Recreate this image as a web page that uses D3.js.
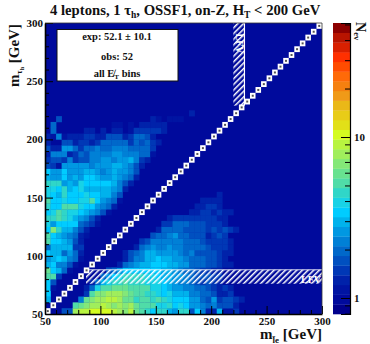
<!DOCTYPE html>
<html>
<head>
<meta charset="utf-8">
<script src="https://cdn.jsdelivr.net/npm/d3@7"></script>
<style>
  html, body { margin: 0; padding: 0; background: #fff; }
  text { font-family: "Liberation Serif", serif; font-weight: bold; fill: #111; }
</style>
</head>
<body>
<svg id="chart" width="370" height="344"></svg>
<script>
// Bin edges of both mass axes [GeV]
const binEdges = d3.range(50, 300, 5);
const xTicksMajor = [50, 100, 150, 200, 250, 300];
const xTicksMinor = [60, 70, 80, 90, 110, 120, 130, 140, 160, 170, 180, 190, 210, 220, 230, 240, 260, 270, 280, 290];
const zTicksMajor = [1, 10];
const zTicksMinor = [0.8, 0.9, 2, 3, 4, 5, 6, 7, 8, 9, 20, 30, 40, 50];

// Events per bin below the diagonal: first bin of each row, then its values (row 0 is m_tau 50-55)
const belowStart = [3, 5, 6, 7, 7, 8, 10, 11, 13, 14, 14, 16, 17, 19, 20, 21, 22, 26, 27, 28, 31];
const belowRows = [
  [1.7,1.7,8.2,9.4,9.4,10.9,10.9,10.9,10.9,9.4,8.2,7.1,9.4,6.2,5.3,4.6,3.5,4.6,4.6,3,2.6,4.6,4.6,1.7,3.5,2.3,1.3,1.3,3,1.1,1.1,1.5],
  [5.3,6.2,7.1,8.2,8.2,9.4,8.2,7.1,8.2,7.1,8.2,6.2,5.3,5.3,5.3,4,4,4.6,3.5,4,3.5,2.6,2.6,2.3,2,2.3,1.7,1.7,1.7,1.3],
  [2.3,6.2,7.1,8.2,8.2,9.4,9.4,8.2,6.2,6.2,4.6,5.3,5.3,4.6,5.3,4.6,4,3.5,3.5,3.5,2.6,2.6,2,1.7,2.6,1.5,1.7,1.7,1.5,1.3],
  [1.5,5.3,7.1,7.1,8.2,8.2,8.2,7.1,6.2,5.3,5.3,4.6,4.6,4,3.5,4,3,3,3,2.3,2.3,2,2,1.7,1.3,1.3,1.5],
  [1.3,2,4,5.3,5.3,6.2,6.2,6.2,5.3,5.3,5.3,5.3,4,4,3.5,3,2.6,2.6,2.3,2.3,2,2,1.7,1.5,1.3,1.5,1.3],
  [1.3,2,3,4,4.6,4.6,5.3,4.6,4.6,4.6,4,4,4,3.5,3,2.6,2.3,2.3,2,1.7,1.5,1.7,1.5,1.3],
  [2,2.6,3.5,4,4.6,4.6,4.6,4.6,4,4,3.5,3,3,2.6,2.6,2.3,2,1.7,1.7,1.7,1.5,1.5,1.1],
  [1.7,2,2.6,3.5,3.5,3.5,3.5,3.5,3.5,3.5,3,3,2.6,2.3,2,2,1.7,1.5,1.5,1.3,1.3],
  [1.3,2,2.3,2.6,3,3,3.5,3.5,3.5,3,3,2.6,2.6,2,2,2,1.7,1.7,1.5,1.3,1.3],
  [1.3,1.7,2.3,2.3,3,3,3.5,3,3,2.6,2.6,2.3,2,2,2,1.7,1.7,1.5,1.3],
  [1.3,1.7,2,2.3,3,3,2.6,2.6,2.6,2.6,2.3,2,2.3,1.7,1.7,1.7,1.7,1.5,1.3,1.3],
  [1.3,2,2.3,2.6,2.3,2.3,2.6,2.3,2.3,2,2,2,2,1.7,1.5,1.5,1.5,1.3],
  [1.5,1.7,2.3,2.3,2.3,2.3,2.3,2.3,2,2,2,1.7,1.5,1.5,1.5,1.5,1.3],
  [1.7,2,2,2.3,2.6,2,2,1.7,1.7,1.7,1.3,1.5,1.7,1.5],
  [1.3,2,2,2,2,1.7,1.7,1.7,1.7,1.5,1.7,1.5,1.7,1.5,1.3],
  [1.5,1.5,2,2,2,1.7,1.7,1.7,1.5,1.5,1.5,1.3],
  [1.3,1.5,1.5,1.5,1.5,1.5,1.5,1.5,1.5,1.3,1.3],
  [1.3,1.3,1.5,1.5,1.3,1.5,1.3,1.3],
  [1.3,1.3,1.5,1.5,1.3],
  [1.3,1.3,1.3,1.3],
  [1.3]
];

// Events per bin above the diagonal, from the first bin of each row (0 = empty); first row is m_tau 55-60
const aboveRows = [
  [0],
  [3],
  [3.5],
  [3.5,1.1],
  [3.5,1.7],
  [5.3,5.3,1.5],
  [6.2,3.5,3,2,1.1],
  [3,3.5,2.3,2.3,1.7,1.1],
  [2.6,3,3.5,3,2.3,2,1.1],
  [3.5,3,3,2,2.6,2,1.3],
  [2,3,3,3,3,1.5,1.5],
  [5.3,3.5,3.5,3,2.6,1.7,1.3],
  [5.3,3.5,3,2.6,2.3,2,1.3,1.1],
  [3.5,7.1,4.6,3,3,2.3,1.7,1.3],
  [4,2.6,3.5,3.5,3.5,3.5,2,1.7,1.5,1.1],
  [4.6,4.6,5.3,4.6,4,3,2.6,2.3,1.7,1.3],
  [3.5,4,5.3,4.6,4,4,3.5,3,2.6,2.3,1.7,1.1],
  [4.6,3.5,3.5,5.3,5.3,5.3,4,3.5,3.5,2.6,2.3,2,1.3],
  [5.3,3.5,3.5,4,3.5,3.5,4,4,5.3,3.5,2.6,2.3,2,1.1],
  [4,3.5,3,4.6,3.5,3.5,3.5,4,3.5,3.5,3,3,2.3,1.7],
  [4,4,3.5,4.6,3,3.5,4,3,3,3,3,3,2.6,2.3,1.3],
  [4.6,4.6,4.6,2.6,3,2.6,4,3.5,3.5,3.5,3.5,3.5,3,2.3,1.7,1.3],
  [3,2.6,2.6,3.5,2.6,3,2.6,3.5,3.5,3,2.6,2.6,3,2.6,2.3,2,1.3],
  [3.5,2.6,2.6,3.5,2.6,2.6,2.6,3,3,2.6,2.3,2.6,3,2.6,2.6,2.3,1.7],
  [1.7,1.5,1.1,2.6,2.6,2.6,2.6,2.6,2.3,2.6,2.6,2.6,3,3,2.6,2.3,1.7,1.3],
  [1.5,1.7,1.7,1.5,2.3,1.5,1.7,1.7,2.3,2.3,2.6,2.6,2.3,2.6,2.6,3,2.3,1.5,1.3],
  [1.3,2.3,2.3,2.3,1.3,1.5,2,1.7,2.3,2.3,2.3,2.3,2.6,2.6,2.3,2.3,2.3,2,2,1.1],
  [1.7,1.3,1.3,2.6,2.6,2,1.5,2,2,2.3,2,2,2.3,2.3,2.3,2,2,2,2,1.5],
  [1.3,0,0,1.7,1.7,1.3,1.5,1.5,1.3,1.5,2,2,2,2,2,1.5,2,1.7,2,1.5,1.3],
  [1.3,1.1,2.3,1.1,1.3,1.3,1.3,1.5,1.5,1.3,1.3,1.7,1.7,1.7,1.3,1.5,2,2,1.7,1.3],
  [0,2,0,0,0,0,0,1.3,1.3,0,1.3,0,1.3,1.3,0,1.1,1.5,1.5,1.5,1.5,1.5,1.3],
  [0,2,0,0,0,0,0,0,0,0,0,0,1.1,1.1,0,1.1,0,1.3,1.3,1.3,1.3,1.3],
  [0,0,1.7,0,0,0,0,0,0,0,0,0,0,0,0,0,0,0,0,1.3,1.1,0,1.1,1.1,1.1],
  [0,0,0,0,0,0,0,0,0,0,0,0,0,0,0,0,0,0,0,0,0,0,0,0,0,0,1.3]
];

// Colour bar levels, bottom to top
const paletteColors = [
  "#00008c", "#000a9c", "#0014a2", "#0022aa", "#0038b6", "#0050c0", "#0068ca", "#0080d6", "#0098e2", "#00b2ec",
  "#00ccff", "#18d2e6", "#30d6c8", "#50dca8", "#68e290", "#84e878", "#a0ee5c", "#b8f440", "#d4fc20", "#e2e018",
  "#e8cc18", "#eab818", "#f09a18", "#f58010", "#ff6a08", "#ff4c00", "#ff3000", "#d82000", "#b81400", "#8c0000"
];

const margin = { top: 23, right: 48, bottom: 30, left: 45 };
const width = 370 - margin.left - margin.right;
const height = 344 - margin.top - margin.bottom;

const svg = d3.select("#chart");
const chart = svg.append("g").attr("transform", `translate(${margin.left},${margin.top})`);

const xScale = d3.scaleLinear().domain([50, 300]).range([0, width]);
const yScale = d3.scaleLinear().domain([50, 300]).range([height, 0]);

// Log z axis: 1 and 10 sit 161px apart, the bar runs past both ends
const zMin = Math.pow(10, -16 / 161);
const zMax = Math.pow(10, 275 / 161);
const zScale = d3.scaleLog().domain([zMin, zMax]).range([height, 0]);
const colorScale = d3.scaleQuantize()
  .domain([Math.log10(zMin), Math.log10(zMax)])
  .range(paletteColors);

// Flatten rows into cells
const cells = [];
belowRows.forEach((row, r) => row.forEach((v, i) => {
  if (v > 0) cells.push({ m1: binEdges[belowStart[r] + i], m2: binEdges[r], v: v });
}));
aboveRows.forEach((row, k) => row.forEach((v, c) => {
  if (v > 0) cells.push({ m1: binEdges[c], m2: binEdges[k + 1], v: v });
}));

// Empty bins take the second palette level
chart.append("rect")
  .attr("width", width)
  .attr("height", height)
  .attr("fill", paletteColors[1]);

chart.selectAll("rect.cell")
  .data(cells)
  .enter()
  .append("rect")
    .attr("class", "cell")
    .attr("x", d => xScale(d.m1))
    .attr("y", d => yScale(d.m2 + 5))
    .attr("width", xScale(55) - xScale(50) + 0.3)
    .attr("height", yScale(50) - yScale(55) + 0.3)
    .attr("fill", d => colorScale(Math.log10(d.v)));

// Hatch for the masked regions
const defs = svg.append("defs");
const hatch = defs.append("pattern")
  .attr("id", "hatch")
  .attr("width", 4)
  .attr("height", 4)
  .attr("patternUnits", "userSpaceOnUse")
  .attr("patternTransform", "rotate(45)");
hatch.append("rect")
  .attr("width", 1.5)
  .attr("height", 4)
  .attr("fill", "#fff");

chart.append("rect")
  .attr("x", xScale(87))
  .attr("y", yScale(88))
  .attr("width", xScale(300) - xScale(87))
  .attr("height", yScale(76) - yScale(88))
  .attr("fill", "url(#hatch)");
chart.append("line")
  .attr("x1", xScale(87))
  .attr("x2", xScale(300))
  .attr("y1", yScale(88))
  .attr("y2", yScale(88))
  .attr("stroke", "#fff")
  .attr("stroke-opacity", 0.8);

chart.append("rect")
  .attr("x", xScale(220))
  .attr("y", yScale(300))
  .attr("width", xScale(230) - xScale(220))
  .attr("height", yScale(229) - yScale(300))
  .attr("fill", "url(#hatch)");
chart.append("line")
  .attr("x1", xScale(230))
  .attr("x2", xScale(230))
  .attr("y1", yScale(300))
  .attr("y2", yScale(229))
  .attr("stroke", "#fff")
  .attr("stroke-width", 1.2);

// LFV labels inside the hatched bands
chart.append("text")
  .attr("x", xScale(300) - 1)
  .attr("y", yScale(77))
  .attr("text-anchor", "end")
  .style("font-size", "10px")
  .style("fill", "#fff")
  .text("LFV");
chart.append("text")
  .attr("transform", `translate(${xScale(225) - 3},${yScale(291)}) rotate(90)`)
  .attr("text-anchor", "start")
  .style("font-size", "10px")
  .style("fill", "#fff")
  .text("LFV");

// Diagonal bins are masked: white squares with a small dark spot
const diagonal = chart.selectAll("g.diag")
  .data(binEdges)
  .enter()
  .append("g")
    .attr("class", "diag");
diagonal.append("rect")
  .attr("x", d => xScale(d))
  .attr("y", d => yScale(d + 5))
  .attr("width", xScale(55) - xScale(50))
  .attr("height", yScale(50) - yScale(55))
  .attr("fill", "#fff");
diagonal.append("rect")
  .attr("x", d => xScale(d + 2.5) - 1)
  .attr("y", d => yScale(d + 2.5) - 1)
  .attr("width", 2)
  .attr("height", 2)
  .attr("fill", "#555");

// Axes
const axisFont = g => g.selectAll("text")
  .style("font-size", "11px")
  .style("font-family", '"Liberation Serif", serif')
  .style("font-weight", "bold")
  .style("fill", "#111");

chart.append("g")
  .attr("transform", `translate(0,${height})`)
  .call(d3.axisBottom(xScale).tickValues(xTicksMinor).tickSize(-4).tickFormat(""))
  .call(g => g.select(".domain").remove());
chart.append("g")
  .attr("transform", `translate(0,${height})`)
  .call(d3.axisBottom(xScale).tickValues(xTicksMajor).tickSize(-8).tickPadding(3).tickSizeOuter(0))
  .call(axisFont)
  .call(g => g.select(".domain").attr("stroke-width", 1.6));

chart.append("g")
  .call(d3.axisLeft(yScale).tickValues(xTicksMinor).tickSize(-4).tickFormat(""))
  .call(g => g.select(".domain").remove());
chart.append("g")
  .call(d3.axisLeft(yScale).tickValues(xTicksMajor).tickSize(-8).tickPadding(2).tickSizeOuter(0))
  .call(axisFont)
  .call(g => g.select(".domain").attr("stroke-width", 1.6));

// Thin frame on top and right
chart.append("line").attr("x1", 0).attr("x2", width).attr("stroke", "#333").attr("stroke-width", 0.8);
chart.append("line").attr("x1", width).attr("x2", width).attr("y2", height).attr("stroke", "#333").attr("stroke-width", 0.8);

// Colour bar
const barX = 288;
const barW = 17;
const levelH = height / paletteColors.length;
chart.selectAll("rect.level")
  .data(paletteColors)
  .enter()
  .append("rect")
    .attr("class", "level")
    .attr("x", barX)
    .attr("y", (d, i) => height - (i + 1) * levelH)
    .attr("width", barW)
    .attr("height", levelH + 0.3)
    .attr("fill", d => d);

const zAxisG = chart.append("g").attr("transform", `translate(${barX + barW},0)`);
zAxisG.append("g")
  .call(d3.axisLeft(zScale).tickValues(zTicksMinor).tickSize(5).tickFormat(""))
  .call(g => g.select(".domain").remove());
zAxisG.append("g")
  .call(d3.axisLeft(zScale).tickValues(zTicksMajor).tickSize(9).tickFormat(""))
  .call(g => g.select(".domain").attr("stroke-width", 1.2));
zAxisG.selectAll("text.zlabel")
  .data(zTicksMajor)
  .enter()
  .append("text")
    .attr("class", "zlabel")
    .attr("x", 4)
    .attr("y", d => zScale(d) + 4)
    .style("font-size", "11px")
    .text(d => d);

// N_ev title, rotated along the bar
const zTitle = svg.append("text")
  .attr("transform", "translate(356,22) rotate(90)")
  .style("font-size", "14px");
zTitle.append("tspan").text("N");
zTitle.append("tspan").attr("dy", 2).style("font-size", "8.5px").text("ev");

// Title
const title = svg.append("text")
  .attr("x", 50)
  .attr("y", 15)
  .style("font-size", "14.7px");
title.append("tspan").text("4 leptons, 1 τ");
title.append("tspan").attr("dy", 3).style("font-size", "9.5px").text("h");
title.append("tspan").attr("dy", -3).text(", OSSF1, on-Z, H");
title.append("tspan").attr("dy", 3).style("font-size", "9.5px").text("T");
title.append("tspan").attr("dy", -3).text(" < 200 GeV");

// Axis titles
const yTitle = svg.append("text")
  .attr("transform", "translate(19,87) rotate(-90)")
  .style("font-size", "15px");
yTitle.append("tspan").text("m");
yTitle.append("tspan").attr("dy", 3).style("font-size", "9px").text("τ");
yTitle.append("tspan").attr("dy", 1.5).style("font-size", "6px").text("h");
yTitle.append("tspan").attr("dy", -4.5).text(" [GeV]");

const xTitle = svg.append("text")
  .attr("x", 322)
  .attr("y", 339)
  .attr("text-anchor", "end")
  .style("font-size", "15px");
xTitle.append("tspan").text("m");
xTitle.append("tspan").attr("dy", 4).style("font-size", "9px").text("l̄e");
xTitle.append("tspan").attr("dy", -4).text(" [GeV]");

// Yield box
const box = svg.append("g");
box.append("rect")
  .attr("x", 57)
  .attr("y", 29.5)
  .attr("width", 121)
  .attr("height", 51.5)
  .attr("fill", "#fff")
  .attr("stroke", "#111")
  .attr("stroke-width", 1);
box.append("text")
  .attr("x", 117)
  .attr("y", 40)
  .attr("text-anchor", "middle")
  .style("font-size", "10.5px")
  .text("exp: 52.1 ± 10.1");
box.append("text")
  .attr("x", 117)
  .attr("y", 60)
  .attr("text-anchor", "middle")
  .style("font-size", "10.5px")
  .text("obs: 52");
const boxNote = box.append("text")
  .attr("x", 117)
  .attr("y", 77)
  .attr("text-anchor", "middle")
  .style("font-size", "10.5px");
boxNote.append("tspan").text("all E\u0338");
boxNote.append("tspan").attr("dy", 2).style("font-size", "7px").text("T");
boxNote.append("tspan").attr("dy", -2).text(" bins");
</script>
</body>
</html>
